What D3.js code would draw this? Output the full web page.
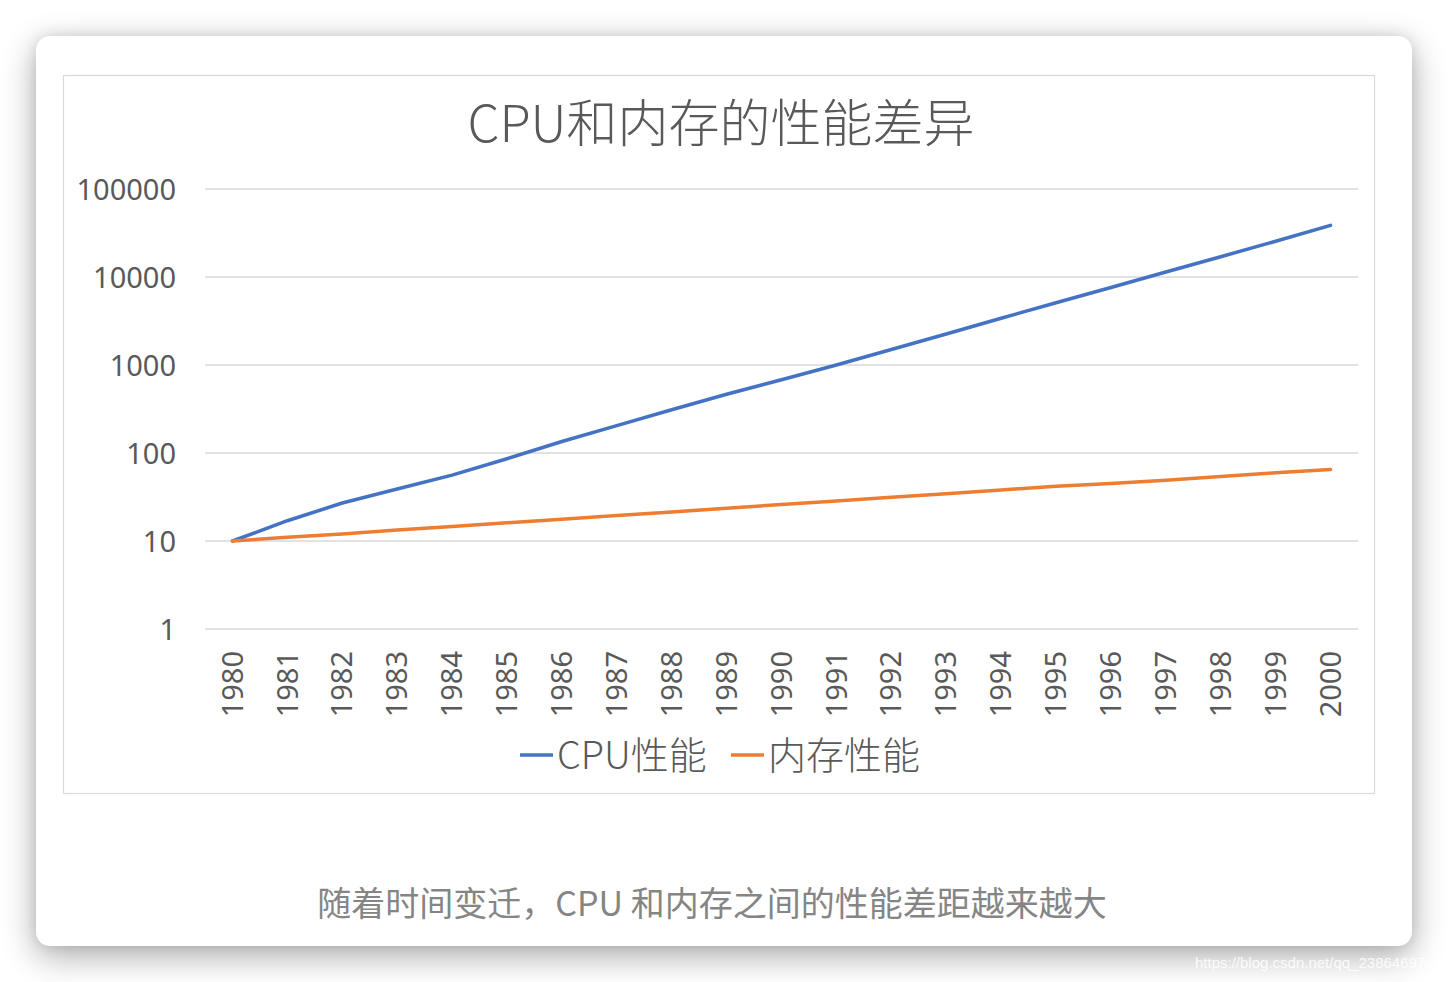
<!DOCTYPE html>
<html>
<head>
<meta charset="utf-8">
<script src="https://cdn.jsdelivr.net/npm/d3@7"></script>
<style>
  html, body { margin: 0; padding: 0; background: #ffffff; }
  body { width: 1448px; height: 982px; position: relative; overflow: hidden; }
  #card { position: absolute; left: 36px; top: 36px; width: 1376px; height: 910px;
          background: #fff; border-radius: 14px;
          box-shadow: 0 10px 34px rgba(0,0,0,0.33), 0 0 14px rgba(0,0,0,0.10); }
  svg { position: absolute; left: 0; top: 0; }
</style>
</head>
<body>
<div id="card"></div>
<svg id="chart" width="1448" height="982"></svg>
<script>
const years = ["1980","1981","1982","1983","1984","1985","1986","1987","1988","1989","1990",
               "1991","1992","1993","1994","1995","1996","1997","1998","1999","2000"];
const cpuPerf = [10, 17, 27, 39, 56, 86, 135, 205, 310, 465, 680,
                 1000, 1500, 2250, 3400, 5100, 7600, 11400, 17000, 25500, 38600];
const memPerf = [10, 11, 12, 13.3, 14.6, 16.1, 17.7, 19.5, 21.4, 23.6, 26,
                 28.5, 31.4, 34.5, 38, 41.8, 45, 49, 54, 59.5, 65];
const yTicks = [1, 10, 100, 1000, 10000, 100000];
const seriesNames = ["CPU性能", "内存性能"];
const seriesColors = ["#4472C4", "#ED7D31"];
const titleText = "CPU和内存的性能差异";
const captionText = "随着时间变迁，CPU 和内存之间的性能差距越来越大";
const watermark = "https://blog.csdn.net/qq_23864697";

const svg = d3.select("#chart");
const cjk = "'Noto Sans CJK SC', 'Noto Sans', sans-serif";

// chart frame
svg.append("rect").attr("x", 63.5).attr("y", 75.5).attr("width", 1311).attr("height", 718)
  .attr("fill", "#fff").attr("stroke", "#d9d9d9").attr("stroke-width", 1.2);

// title
svg.append("text").attr("x", 721).attr("y", 142).attr("text-anchor", "middle")
  .attr("font-family", cjk).attr("font-weight", 300).attr("font-size", 51)
  .attr("fill", "#595959").text(titleText);

const x = d3.scaleBand().domain(years).range([205, 1358]);
const cx = d => x(d) + x.bandwidth() / 2;
const y = d3.scaleLog().domain([1, 100000]).range([629, 189]);

// gridlines
svg.append("g").selectAll("line").data(yTicks).join("line")
  .attr("x1", 205).attr("x2", 1358)
  .attr("y1", d => y(d)).attr("y2", d => y(d))
  .attr("stroke", "#d9d9d9").attr("stroke-width", 1.5);

// y axis labels
const yAxis = d3.axisLeft(y).tickValues(yTicks).tickFormat(d3.format("d")).tickSize(0).tickPadding(0);
const gy = svg.append("g").attr("transform", "translate(176,0)").call(yAxis);
gy.select(".domain").remove();
gy.selectAll("text").attr("font-family", "'Noto Sans', sans-serif").attr("font-size", 29)
  .attr("fill", "#595959").attr("dy", "0.35em");

// x axis labels
const xAxis = d3.axisBottom(x).tickSize(0).tickPadding(0);
const gx = svg.append("g").attr("transform", "translate(0,651)").call(xAxis);
gx.select(".domain").remove();
gx.selectAll("text")
  .attr("font-family", "'Noto Sans', sans-serif").attr("font-size", 29).attr("fill", "#595959")
  .attr("text-anchor", "end").attr("transform", "rotate(-90)")
  .attr("x", 0).attr("y", 0).attr("dy", "0.35em");

// lines
const line = d3.line().x((d, i) => cx(years[i])).y(d => y(d));
[cpuPerf, memPerf].forEach((s, k) => {
  svg.append("path").datum(s).attr("d", line).attr("fill", "none")
    .attr("stroke", seriesColors[k]).attr("stroke-width", 3.5)
    .attr("stroke-linejoin", "round").attr("stroke-linecap", "round");
});

// legend
const legendPos = [520, 731];
seriesNames.forEach((n, k) => {
  const g = svg.append("g").attr("transform", `translate(${legendPos[k]},755)`);
  g.append("line").attr("x1", 0).attr("x2", 33).attr("y1", 0).attr("y2", 0)
    .attr("stroke", seriesColors[k]).attr("stroke-width", 3.5);
  g.append("text").attr("x", 37).attr("y", 0).attr("dy", "0.36em")
    .attr("font-family", cjk).attr("font-weight", 300).attr("font-size", 38)
    .attr("fill", "#595959").text(n);
});

// caption
svg.append("text").attr("x", 712).attr("y", 916).attr("text-anchor", "middle")
  .attr("font-family", "'Noto Sans CJK SC', sans-serif").attr("font-size", 34)
  .attr("fill", "#858585").text(captionText);

// watermark
svg.append("text").attr("x", 1195).attr("y", 968)
  .attr("font-family", "'Liberation Sans', Arial, sans-serif").attr("font-size", 15)
  .attr("fill", "#ffffff").attr("fill-opacity", 0.9).text(watermark);
</script>
</body>
</html>
